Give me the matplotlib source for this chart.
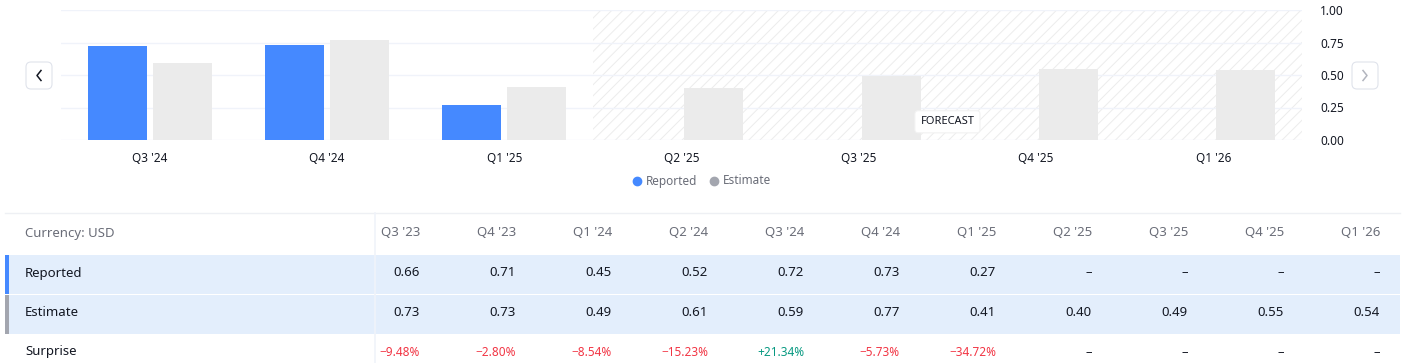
import matplotlib.pyplot as plt
import numpy as np
from matplotlib.patches import Rectangle, FancyBboxPatch

plt.rcParams['font.family'] = ['Noto Sans', 'DejaVu Sans']
plt.rcParams['hatch.linewidth'] = 0.7
plt.rcParams['hatch.color'] = '#ECECEC'

# chart data
chart_quarters = ["Q3 '24", "Q4 '24", "Q1 '25", "Q2 '25", "Q3 '25", "Q4 '25", "Q1 '26"]
chart_reported = [0.72, 0.73, 0.27, None, None, None, None]
chart_estimate = [0.59, 0.77, 0.41, 0.40, 0.49, 0.55, 0.54]
y_ticks = [0.0, 0.25, 0.5, 0.75, 1.0]

# table data
table_quarters = ["Q3 '23", "Q4 '23", "Q1 '24", "Q2 '24", "Q3 '24", "Q4 '24",
                  "Q1 '25", "Q2 '25", "Q3 '25", "Q4 '25", "Q1 '26"]
table_reported = [0.66, 0.71, 0.45, 0.52, 0.72, 0.73, 0.27, None, None, None, None]
table_estimate = [0.73, 0.73, 0.49, 0.61, 0.59, 0.77, 0.41, 0.40, 0.49, 0.55, 0.54]
table_surprise = [-9.48, -2.80, -8.54, -15.23, 21.34, -5.73, -34.72, None, None, None, None]

BLUE = '#4589FF'
GREY = '#EBEBEB'
TXT = '#131722'
SUB = '#6A6D78'
RED = '#F23645'
GREEN = '#089981'
ROWBG = '#E3EEFC'

W, H = 1408, 363
fig = plt.figure(figsize=(W / 100, H / 100), dpi=100)

# overlay in pixel coordinates for table, legend and buttons
ov = fig.add_axes([0, 0, 1, 1])
ov.set_xlim(0, W)
ov.set_ylim(H, 0)
ov.axis('off')

# chart
ax = fig.add_axes([61 / W, (H - 140) / H, (1302 - 61) / W, 130 / H])
ax.set_facecolor('none')
x = np.arange(len(chart_quarters))
off, bw = 0.183, 0.333
for i in x:
    if chart_reported[i] is not None:
        ax.bar(i - off, chart_reported[i], bw, color=BLUE, zorder=3)
    ax.bar(i + off, chart_estimate[i], bw, color=GREY, zorder=3)
ax.add_patch(Rectangle((2.5, 0), 4.0, 1.0, facecolor='none', hatch='///',
                       edgecolor='#ECECEC', linewidth=0, zorder=1))
ax.set_xlim(-0.5, 6.5)
ax.set_ylim(0, 1.0)
ax.set_yticks(y_ticks)
ax.set_yticklabels([f"{v:.2f}" for v in y_ticks])
ax.yaxis.tick_right()
ax.grid(axis='y', color='#F0F3FA', linewidth=1, zorder=0)
ax.set_xticks(x)
ax.set_xticklabels(chart_quarters)
ax.tick_params(axis='both', length=0, labelsize=8.5, colors=TXT)
ax.tick_params(axis='x', pad=9)
ax.tick_params(axis='y', pad=13)
for s in ax.spines.values():
    s.set_visible(False)
ax.text(4.5, 0.14, "FORECAST", ha='center', va='center', fontsize=8,
        color=TXT, fontweight='bold', zorder=5,
        bbox=dict(boxstyle='round,pad=0.5,rounding_size=0.3', fc='white', ec='#F2F2F2', lw=0.8))

# nav buttons
for bx, col, d in [(26, TXT, -1), (1352, '#B2B5BE', 1)]:
    ov.add_patch(FancyBboxPatch((bx, 62), 26, 27, boxstyle='round,pad=0,rounding_size=5',
                                fc='white', ec='#E0E3EB', lw=0.8))
    cx = bx + 13
    ov.plot([cx - 2 * d, cx + 2 * d, cx - 2 * d], [70.5, 75.5, 80.5], color=col, lw=1.1)

# legend
ov.plot([637], [181], 'o', ms=6, color=BLUE)
ov.text(646, 181, "Reported", va='center', fontsize=8.5, color=SUB)
ov.plot([714], [181], 'o', ms=6, color='#A3A6AF')
ov.text(723, 181, "Estimate", va='center', fontsize=8.5, color=SUB)

# table
ov.plot([5, 1400], [213, 213], color='#EEF0F4', lw=1)
ov.add_patch(Rectangle((5, 254.5), 1395, 39, fc=ROWBG, ec='none'))
ov.add_patch(Rectangle((5, 295), 1395, 39, fc=ROWBG, ec='none'))
ov.add_patch(Rectangle((5, 254.5), 3.5, 39, fc=BLUE, ec='none'))
ov.add_patch(Rectangle((5, 295), 3.5, 39, fc='#A3A6AF', ec='none'))
ov.plot([375, 375], [213, 363], color='#F0F3FA', lw=1.2)

ov.text(25, 234, "Currency: USD", va='center', fontsize=9.5, color=SUB)
ov.text(25, 273, "Reported", va='center', fontsize=9.5, color=TXT)
ov.text(25, 313, "Estimate", va='center', fontsize=9.5, color=TXT)
ov.text(25, 352, "Surprise", va='center', fontsize=9.5, color=TXT)

DASH = "\u2013"
for i, q in enumerate(table_quarters):
    xr = 420 + i * 96
    ov.text(xr, 233, q, ha='right', va='center', fontsize=9.5, color=SUB)
    r = table_reported[i]
    ov.text(xr, 273, DASH if r is None else f"{r:.2f}", ha='right', va='center',
            fontsize=9.5, color=TXT)
    ov.text(xr, 313, f"{table_estimate[i]:.2f}", ha='right', va='center',
            fontsize=9.5, color=TXT)
    s = table_surprise[i]
    if s is None:
        ov.text(xr, 353, DASH, ha='right', va='center', fontsize=9.5, color=TXT)
    else:
        lab = ("+" if s > 0 else "\u2212") + f"{abs(s):.2f}%"
        ov.text(xr, 353, lab, ha='right', va='center', fontsize=8.5,
                color=GREEN if s > 0 else RED)

fig.savefig("out.png", dpi=100)
